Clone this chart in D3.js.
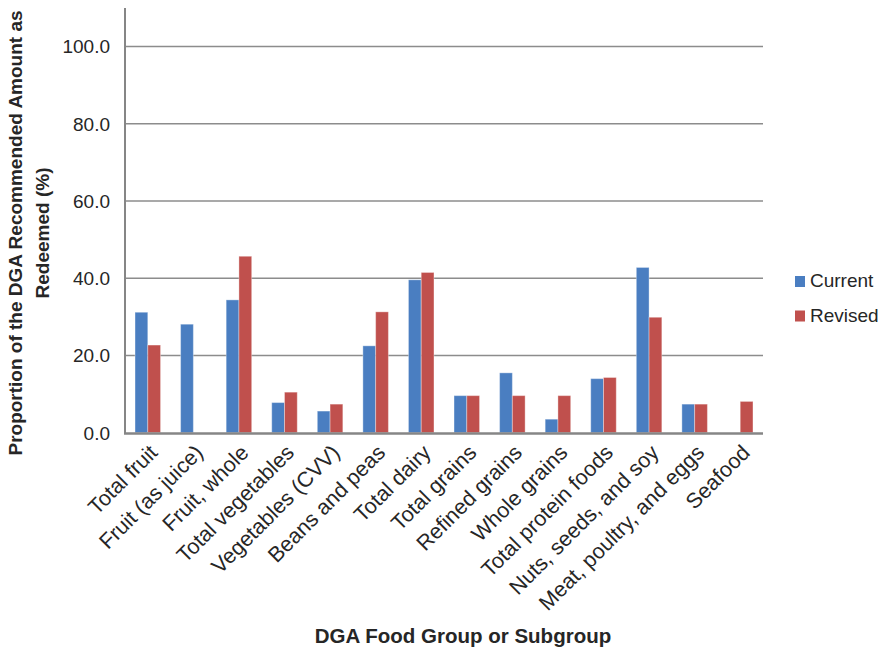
<!DOCTYPE html>
<html>
<head>
<meta charset="utf-8">
<script src="https://cdn.jsdelivr.net/npm/d3@7"></script>
<style>
  body { margin: 0; background: #fff; }
  text { font-family: "Liberation Sans", Arial, sans-serif; fill: #262626; }
</style>
</head>
<body>
<svg id="myGraph" width="883" height="651"></svg>
<script>
var categories = ["Total fruit", "Fruit (as juice)", "Fruit, whole", "Total vegetables",
  "Vegetables (CVV)", "Beans and peas", "Total dairy", "Total grains", "Refined grains",
  "Whole grains", "Total protein foods", "Nuts, seeds, and soy", "Meat, poultry, and eggs", "Seafood"]
var seriesNames = ["Current", "Revised"]
var currentValues = [31.2, 28.1, 34.4, 7.8, 5.6, 22.5, 39.6, 9.6, 15.5, 3.5, 14.0, 42.8, 7.4, 0]
var revisedValues = [22.7, 0, 45.7, 10.5, 7.4, 31.3, 41.5, 9.6, 9.6, 9.6, 14.3, 29.9, 7.4, 8.1]
var yTicks = [0, 20, 40, 60, 80, 100]
var colors = ["#4a7ec1", "#c0504d"]

var svg = d3.select("#myGraph")

var x = d3.scaleBand()
  .domain(categories)
  .range([125, 763])
  .paddingInner(0.44)
  .paddingOuter(0.22)

var x1 = d3.scaleBand()
  .domain(seriesNames)
  .range([0, x.bandwidth()])

var y = d3.scaleLinear()
  .domain([0, 110])
  .range([432.7, 8])

// gridlines
svg.selectAll(".grid")
  .data(yTicks.filter(function(d){ return d > 0 }))
  .enter()
  .append("line")
  .attr("x1", 125)
  .attr("x2", 763)
  .attr("y1", function(d){ return y(d) })
  .attr("y2", function(d){ return y(d) })
  .style("stroke", "#8c8c8c")
  .style("stroke-width", "1.5")

// y tick labels
svg.selectAll(".ytick")
  .data(yTicks)
  .enter()
  .append("text")
  .attr("x", 110)
  .attr("y", function(d){ return y(d) })
  .attr("dy", "0.36em")
  .attr("text-anchor", "end")
  .attr("font-size", "19px")
  .text(function(d){ return d3.format(".1f")(d) })

// bars
var rows = categories.map(function(c, i){
  return [ {s: "Current", c: c, v: currentValues[i]}, {s: "Revised", c: c, v: revisedValues[i]} ]
})

svg.selectAll(".group")
  .data(rows)
  .enter()
  .append("g")
  .attr("transform", function(d, i){ return "translate(" + x(categories[i]) + ",0)" })
  .selectAll("rect")
  .data(function(d){ return d.filter(function(e){ return e.v > 0 }) })
  .enter()
  .append("rect")
  .attr("x", function(d){ return x1(d.s) })
  .attr("width", x1.bandwidth())
  .attr("y", function(d){ return y(d.v) })
  .attr("height", function(d){ return y(0) - y(d.v) })
  .style("fill", function(d){ return colors[seriesNames.indexOf(d.s)] })
  .style("stroke", "rgba(255,255,255,0.35)")
  .style("stroke-width", "1")

// axes lines
svg.append("line")
  .attr("x1", 125).attr("x2", 125)
  .attr("y1", 8).attr("y2", 433.5)
  .style("stroke", "#868686").style("stroke-width", "2")
svg.append("line")
  .attr("x1", 124).attr("x2", 763)
  .attr("y1", 433.5).attr("y2", 433.5)
  .style("stroke", "#868686").style("stroke-width", "2.5")

// category labels
svg.selectAll(".cat")
  .data(categories)
  .enter()
  .append("text")
  .attr("transform", function(d){
    return "translate(" + (x(d) + x.bandwidth() / 2) + ",443) rotate(-45)"
  })
  .attr("dy", "0.72em")
  .attr("text-anchor", "end")
  .attr("font-size", "21.5px")
  .text(function(d){ return d })

// axis titles
svg.append("text")
  .attr("transform", "translate(22,233) rotate(-90)")
  .attr("text-anchor", "middle")
  .attr("font-size", "19px")
  .attr("font-weight", "bold")
  .text("Proportion of the DGA Recommended Amount as")
svg.append("text")
  .attr("transform", "translate(49,233) rotate(-90)")
  .attr("text-anchor", "middle")
  .attr("font-size", "19px")
  .attr("font-weight", "bold")
  .text("Redeemed (%)")
svg.append("text")
  .attr("x", 463)
  .attr("y", 643)
  .attr("text-anchor", "middle")
  .attr("font-size", "20.5px")
  .attr("font-weight", "bold")
  .text("DGA Food Group or Subgroup")

// legend
var legend = svg.selectAll(".legend")
  .data(seriesNames)
  .enter()
  .append("g")
  .attr("transform", function(d, i){ return "translate(795," + (276 + i * 34.5) + ")" })
legend.append("rect")
  .attr("width", 10)
  .attr("height", 11)
  .style("fill", function(d, i){ return colors[i] })
legend.append("text")
  .attr("x", 15)
  .attr("y", 11)
  .attr("font-size", "19px")
  .text(function(d){ return d })
</script>
</body>
</html>
